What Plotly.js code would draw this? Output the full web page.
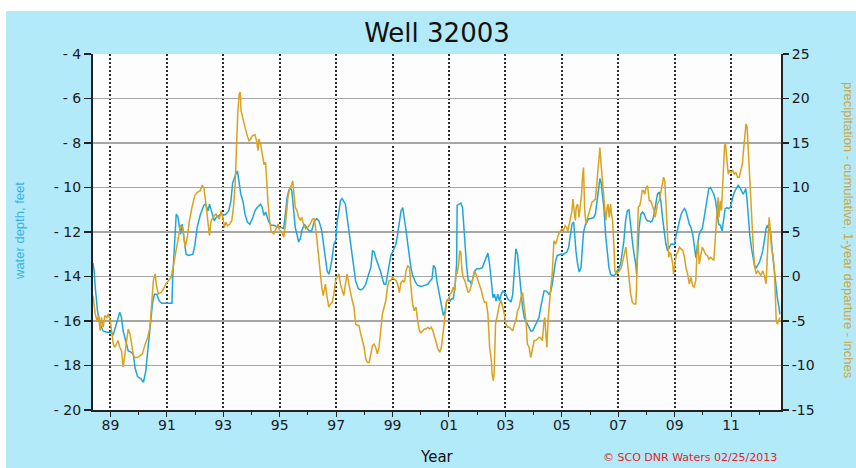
<!DOCTYPE html>
<html>
<head>
<meta charset="utf-8">
<script src="https://cdn.plot.ly/plotly-3.0.1.min.js"></script>
<style>html,body{margin:0;padding:0;background:#fff;}#chart{width:856px;height:468px;}</style>
</head>
<body>
<div id="chart"></div>
<script>
// Water depth (feet, left axis) — decimal years
const depthYears = [1988.38,1988.42,1988.46,1988.54,1988.62,1988.74,1988.86,1989.00,1989.10,1989.21,1989.33,1989.39,1989.45,1989.54,1989.63,1989.73,1989.81,1989.87,1989.96,1990.08,1990.17,1990.25,1990.32,1990.40,1990.49,1990.56,1990.64,1990.73,1990.82,1991.00,1991.18,1991.20,1991.27,1991.33,1991.39,1991.48,1991.54,1991.62,1991.68,1991.77,1991.92,1991.99,1992.07,1992.19,1992.31,1992.37,1992.46,
1992.51,1992.57,1992.63,1992.68,1992.74,1992.84,1992.92,1993.00,1993.09,1993.19,1993.27,1993.33,1993.39,1993.44,1993.50,1993.56,1993.62,1993.70,1993.77,1993.85,1993.94,1994.03,1994.12,1994.20,1994.32,1994.38,1994.44,1994.50,1994.56,1994.61,1994.70,1994.79,1994.87,1994.96,1995.06,1995.14,1995.20,1995.26,1995.32,1995.37,1995.43,1995.49,1995.55,1995.61,1995.67,1995.73,1995.78,1995.87,1995.96,1996.04,1996.13,1996.23,1996.31,1996.39,1996.49,
1996.56,1996.62,1996.68,1996.74,1996.80,1996.86,1996.92,1996.98,1997.04,1997.10,1997.15,1997.21,1997.27,1997.33,1997.39,1997.45,1997.51,1997.57,1997.63,1997.69,1997.79,1997.87,1997.95,1998.05,1998.14,1998.23,1998.29,1998.35,1998.40,1998.46,1998.52,1998.58,1998.64,1998.70,1998.76,1998.82,1998.88,1998.94,1999.00,1999.06,1999.12,1999.18,1999.24,1999.30,1999.36,1999.42,1999.48,1999.54,1999.60,1999.65,1999.71,1999.81,1999.89,2000.01,2000.13,2000.25,2000.33,2000.40,2000.45,2000.51,2000.57,2000.64,
2000.74,2000.80,2000.86,2000.92,2000.98,2001.04,2001.09,2001.15,2001.21,2001.27,2001.29,2001.35,2001.42,2001.48,2001.53,2001.57,2001.62,2001.68,2001.74,2001.80,2001.85,2001.91,2001.99,2002.09,2002.18,2002.26,2002.32,2002.38,2002.44,2002.50,2002.56,2002.61,2002.67,2002.73,2002.79,2002.85,2002.91,2002.96,2003.02,2003.08,2003.14,2003.20,2003.26,2003.32,2003.37,2003.43,2003.49,2003.55,2003.61,2003.67,2003.73,2003.78,2003.84,2003.90,2003.96,2004.02,2004.08,2004.13,2004.19,2004.25,2004.31,2004.37,2004.43,2004.49,2004.54,2004.60,2004.66,2004.72,2004.78,2004.84,
2004.88,2004.94,2005.00,2005.06,2005.12,2005.18,2005.24,2005.30,2005.36,2005.42,2005.45,2005.50,2005.56,2005.62,2005.68,2005.73,2005.77,2005.83,2005.89,2005.95,2006.01,2006.13,2006.19,2006.25,2006.31,2006.35,2006.39,2006.44,2006.49,2006.55,2006.61,2006.67,2006.73,2006.79,2006.85,2006.90,2006.96,2007.02,2007.08,2007.14,2007.20,2007.26,2007.32,2007.38,2007.44,2007.50,2007.56,2007.62,2007.65,2007.69,2007.74,2007.80,2007.86,2007.92,2007.98,2008.04,2008.10,2008.15,2008.21,2008.27,2008.33,2008.39,2008.45,2008.51,2008.57,2008.63,2008.69,2008.75,2008.81,2008.87,2008.93,2008.99,
2009.06,2009.12,2009.17,2009.23,2009.29,2009.35,2009.40,2009.46,2009.52,2009.58,2009.64,2009.69,2009.75,2009.81,2009.87,2009.92,2009.98,2010.04,2010.10,2010.16,2010.21,2010.27,2010.33,2010.39,2010.45,2010.50,2010.56,2010.62,2010.68,2010.73,2010.79,2010.85,2010.91,2010.97,2011.02,2011.08,2011.14,2011.20,2011.25,2011.31,2011.37,2011.43,2011.49,2011.52,2011.57,2011.61,2011.66,2011.72,2011.77,2011.83,2011.89,2011.95,2012.01,2012.06,2012.12,2012.18,2012.24,2012.29,2012.35,2012.41,2012.47,2012.53,2012.58,2012.64,2012.70,2012.73];
const depthFeet = [-13.4,-13.75,-14.5,-15.55,-16.1,-16.45,-16.5,-16.5,-16.6,-16.1,-15.6,-15.85,-16.45,-16.9,-17.35,-17.4,-17.5,-18.1,-18.5,-18.6,-18.75,-18.25,-17.35,-16.3,-15.2,-14.8,-14.8,-15.1,-15.2,-15.2,-15.2,-14.2,-12.85,-11.2,-11.3,-12.1,-11.65,-12.55,-13.0,-13.05,-13.0,-12.6,-11.8,-11.2,-10.8,-10.75,-11.05,
-10.75,-11.05,-11.25,-11.5,-11.35,-11.25,-11.2,-11.25,-11.2,-11.05,-10.6,-9.8,-9.55,-9.4,-9.25,-9.85,-10.3,-10.65,-11.2,-11.55,-11.65,-11.4,-11.05,-10.9,-10.75,-10.9,-11.25,-11.1,-11.35,-11.55,-11.7,-11.7,-11.75,-11.8,-11.8,-11.85,-11.2,-10.45,-10.15,-10.0,-10.15,-10.9,-11.8,-12.1,-12.45,-12.3,-11.95,-11.65,-11.8,-11.95,-11.95,-11.5,-11.4,-11.5,-11.95,
-12.7,-13.3,-13.75,-13.9,-13.6,-13.15,-12.55,-12.4,-11.5,-11.05,-10.6,-10.5,-10.6,-10.75,-11.35,-11.95,-12.55,-13.15,-13.75,-14.2,-14.55,-14.6,-14.55,-14.35,-13.95,-13.6,-12.85,-12.9,-13.15,-13.35,-13.6,-13.8,-14.1,-14.35,-14.35,-13.95,-13.45,-13.05,-12.9,-12.7,-12.55,-12.1,-11.5,-11.05,-10.9,-11.35,-11.95,-12.55,-13.15,-13.6,-13.95,-14.25,-14.4,-14.45,-14.4,-14.35,-14.2,-14.1,-13.5,-13.6,-14.2,-14.65,
-15.4,-15.75,-15.55,-15.1,-15.0,-15.1,-15.0,-15.0,-14.5,-13.45,-10.8,-10.75,-10.7,-10.9,-11.65,-12.55,-13.45,-14.2,-14.2,-14.35,-14.05,-13.75,-13.65,-13.65,-13.6,-13.35,-13.15,-12.95,-13.45,-14.2,-14.95,-14.8,-15.1,-14.8,-15.1,-14.8,-14.65,-14.7,-14.8,-15.0,-15.1,-15.15,-14.8,-13.6,-12.75,-13.0,-13.9,-14.8,-15.4,-15.85,-16.0,-16.15,-16.3,-16.45,-16.45,-16.3,-16.15,-16.0,-15.85,-15.4,-14.95,-14.65,-14.65,-14.7,-14.8,-14.7,-14.35,-13.75,-13.3,-13.05,
-13.05,-13.0,-13.0,-13.0,-12.95,-12.9,-12.7,-12.1,-11.65,-11.55,-12.1,-12.85,-13.45,-13.8,-13.6,-12.85,-12.0,-11.7,-11.55,-11.4,-11.4,-11.35,-11.2,-10.6,-10.0,-9.6,-9.75,-10.3,-10.9,-12.1,-13.0,-13.6,-13.9,-13.95,-13.95,-13.9,-13.75,-13.65,-13.45,-13.0,-12.4,-11.5,-11.05,-11.0,-11.8,-12.4,-13.0,-13.45,-13.9,-12.7,-11.8,-11.2,-11.1,-11.2,-11.4,-11.5,-11.5,-11.55,-11.5,-11.2,-10.75,-10.3,-10.2,-10.6,-11.35,-11.95,-12.55,-12.85,-12.7,-12.55,-12.55,-12.55,
-12.1,-11.8,-11.5,-11.2,-11.05,-10.95,-11.05,-11.35,-11.65,-11.8,-12.1,-12.55,-13.15,-12.55,-12.1,-11.95,-11.85,-11.4,-10.9,-10.45,-10.05,-10.0,-10.15,-10.3,-10.6,-11.05,-11.65,-11.7,-11.95,-11.5,-10.95,-10.9,-10.95,-10.9,-10.6,-10.35,-10.15,-10.0,-9.9,-10.0,-10.15,-10.3,-10.15,-10.05,-10.6,-11.5,-12.1,-12.7,-13.15,-13.5,-13.6,-13.5,-13.35,-13.15,-12.85,-12.4,-11.85,-11.7,-11.95,-12.1,-13.0,-13.75,-14.5,-14.95,-15.4,-15.7];

// Precipitation, cumulative 1-year departure (inches, right axis)
const precipYears = [1988.38,1988.42,1988.46,1988.52,1988.58,1988.63,1988.68,1988.74,1988.80,1988.87,1988.92,1988.99,1989.04,1989.10,1989.15,1989.21,1989.27,1989.33,1989.39,1989.45,1989.51,1989.57,1989.63,1989.69,1989.75,1989.81,1989.87,1989.96,1990.05,1990.13,1990.23,1990.32,1990.40,1990.46,1990.52,1990.58,1990.64,1990.70,1990.80,1990.88,1990.96,1991.06,1991.15,1991.24,1991.32,1991.39,1991.48,1991.56,1991.65,1991.73,1991.80,1991.89,1991.99,1992.08,1992.18,1992.25,1992.31,1992.37,1992.43,
1992.51,1992.57,1992.63,1992.68,1992.74,1992.80,1992.86,1992.92,1992.98,1993.04,1993.09,1993.15,1993.23,1993.30,1993.36,1993.42,1993.47,1993.51,1993.56,1993.60,1993.63,1993.70,1993.77,1993.85,1993.91,1993.97,1994.03,1994.12,1994.18,1994.23,1994.26,1994.32,1994.38,1994.44,1994.50,1994.53,1994.58,1994.64,1994.70,1994.79,1994.87,1994.94,1995.00,1995.08,1995.14,1995.20,1995.25,1995.29,1995.35,1995.41,1995.46,1995.50,1995.55,1995.61,1995.67,1995.73,1995.78,1995.84,1995.92,1995.99,1996.08,1996.16,1996.23,1996.31,1996.37,1996.43,1996.49,1996.54,
1996.62,1996.68,1996.74,1996.80,1996.86,1996.92,1996.98,1997.04,1997.10,1997.15,1997.21,1997.27,1997.33,1997.39,1997.45,1997.51,1997.57,1997.63,1997.69,1997.75,1997.81,1997.87,1997.93,1997.99,1998.05,1998.11,1998.17,1998.23,1998.29,1998.35,1998.40,1998.46,1998.52,1998.58,1998.64,1998.70,1998.76,1998.82,1998.88,1998.94,1999.00,1999.06,1999.12,1999.18,1999.24,1999.30,1999.36,1999.42,1999.48,1999.54,1999.60,1999.65,1999.71,1999.77,1999.83,1999.89,1999.95,2000.01,2000.07,2000.13,2000.19,2000.25,2000.31,2000.37,2000.43,2000.49,2000.55,2000.61,2000.67,2000.73,
2000.80,2000.86,2000.92,2000.98,2001.04,2001.09,2001.15,2001.21,2001.25,2001.29,2001.34,2001.38,2001.42,2001.46,2001.50,2001.56,2001.62,2001.68,2001.74,2001.80,2001.85,2001.91,2001.97,2002.03,2002.09,2002.15,2002.20,2002.26,2002.32,2002.38,2002.44,2002.50,2002.53,2002.57,2002.60,2002.65,2002.70,2002.74,2002.79,2002.85,2002.91,2002.96,2003.02,2003.08,2003.14,2003.20,2003.26,2003.32,2003.37,2003.43,2003.49,2003.55,2003.61,2003.67,2003.73,2003.78,2003.84,2003.90,2003.96,2004.02,2004.08,2004.13,2004.19,2004.25,2004.31,2004.37,2004.40,2004.44,2004.47,2004.52,2004.57,2004.61,2004.66,2004.72,2004.78,2004.84,2004.89,
2005.00,2005.06,2005.12,2005.18,2005.21,2005.26,2005.30,2005.36,2005.39,2005.44,2005.48,2005.51,2005.56,2005.61,2005.65,2005.70,2005.74,2005.77,2005.81,2005.86,2005.89,2005.95,2006.01,2006.07,2006.13,2006.19,2006.25,2006.31,2006.35,2006.39,2006.44,2006.49,2006.52,2006.56,2006.61,2006.64,2006.68,2006.73,2006.76,2006.80,2006.85,2006.88,2006.93,2006.99,2007.05,2007.11,2007.17,2007.23,2007.27,2007.32,2007.38,2007.44,2007.50,2007.56,2007.62,2007.65,2007.68,2007.71,2007.76,2007.80,2007.85,2007.89,2007.94,2007.99,2008.04,2008.10,2008.15,2008.21,2008.27,2008.31,2008.36,2008.39,2008.45,2008.51,2008.57,2008.61,2008.65,2008.70,2008.75,2008.79,2008.83,2008.87,2008.93,2008.96,2009.01,2009.06,2009.11,
2009.17,2009.23,2009.29,2009.35,2009.40,2009.46,2009.52,2009.58,2009.64,2009.69,2009.75,2009.79,2009.83,2009.87,2009.92,2009.98,2010.04,2010.10,2010.16,2010.21,2010.27,2010.33,2010.39,2010.45,2010.50,2010.54,2010.57,2010.62,2010.66,2010.70,2010.73,2010.77,2010.80,2010.85,2010.90,2010.94,2011.00,2011.06,2011.12,2011.17,2011.23,2011.29,2011.35,2011.40,2011.45,2011.50,2011.53,2011.57,2011.61,2011.66,2011.71,2011.75,2011.80,2011.84,2011.89,2011.95,2012.01,2012.06,2012.12,2012.18,2012.24,2012.27,2012.32,2012.35,2012.39,2012.43,2012.48,2012.53,2012.56,2012.60,2012.64,2012.68,2012.73];
const precipInches = [-2.15,-3.45,-4.2,-4.95,-4.4,-6.1,-4.6,-5.7,-4.4,-4.6,-4.2,-4.95,-6.45,-7.6,-7.95,-7.6,-7.2,-7.95,-8.3,-10.2,-8.3,-7.2,-5.9,-6.45,-7.6,-8.9,-9.1,-9.1,-8.9,-8.7,-7.6,-6.85,-5.7,-2.7,-0.45,0.3,-1.2,-1.95,-1.8,-1.4,-0.85,-0.45,-0.1,1.4,2.9,4.4,5.7,5.5,3.3,4.6,6.3,7.8,9.1,9.45,9.65,10.2,10.0,8.5,7.0,
4.6,6.3,6.65,6.85,7.0,6.65,6.45,7.4,6.65,5.5,6.1,5.7,5.9,6.3,7.8,10.4,14.9,18.25,20.5,20.7,18.6,17.5,16.75,15.8,15.25,15.45,15.8,15.95,15.25,14.15,15.45,14.9,13.75,12.65,12.8,10.75,8.5,6.3,5.0,4.8,5.5,5.9,5.15,5.0,4.4,5.7,7.4,8.9,9.85,10.2,10.75,8.9,7.8,7.4,6.65,6.3,6.65,5.9,5.35,5.5,5.9,6.45,6.45,4.4,2.5,0.3,-1.2,-2.15,
-0.85,-2.35,-3.45,-3.1,-2.9,-1.95,-0.45,-0.1,0.3,-0.85,-1.6,-2.15,-0.85,0.3,-0.85,-1.95,-2.7,-3.45,-5.35,-5.5,-5.5,-6.45,-7.2,-7.95,-9.25,-9.65,-9.65,-8.7,-7.75,-7.6,-7.95,-8.7,-7.95,-6.1,-4.2,-3.45,-2.7,-1.2,-0.45,-0.45,-0.1,-0.3,-0.45,-0.85,-1.8,-0.65,-0.45,-0.65,0.65,1.2,1.0,-1.2,-3.1,-3.85,-3.45,-4.95,-6.1,-6.3,-6.1,-5.9,-5.9,-5.7,-5.9,-5.7,-6.1,-6.85,-7.6,-8.15,-8.5,-7.95,
-6.1,-4.2,-2.7,-2.7,-1.95,-1.8,-1.2,-1.6,0.65,0.3,1.4,2.9,2.7,0.65,-0.1,-0.45,-1.2,-1.8,-1.6,-0.85,-0.3,0.65,0.1,-0.45,-1.2,-1.6,-2.35,-2.9,-2.9,-4.2,-7.95,-9.45,-10.95,-11.7,-10.95,-5.35,-4.6,-3.85,-3.1,-2.7,-3.45,-4.2,-5.35,-5.7,-5.7,-5.9,-6.1,-5.35,-4.95,-3.85,-3.45,-2.35,-1.8,-3.45,-4.95,-7.6,-7.95,-9.1,-7.95,-7.2,-7.2,-7.0,-6.85,-6.85,-7.2,-4.95,-4.6,-6.85,-7.95,-4.6,-2.35,-1.2,0.3,4.0,3.65,4.2,4.8,
5.35,5.15,5.7,5.5,5.0,5.9,6.65,7.4,8.7,7.0,6.3,7.8,8.15,6.65,7.8,9.25,11.5,12.25,7.4,5.9,6.3,7.0,7.8,8.35,8.5,8.7,10.75,13.0,14.5,12.65,10.75,9.65,7.8,6.3,7.8,8.15,6.65,8.15,7.0,6.3,3.3,0.65,0.3,0.45,0.65,1.0,1.8,2.5,3.3,1.8,-0.45,-1.95,-2.9,-3.1,-3.1,-1.2,4.0,7.8,7.95,8.5,9.65,9.65,9.25,10.0,10.2,8.5,8.5,7.95,7.4,6.65,7.8,8.15,8.5,9.65,10.6,11.15,10.75,7.0,3.3,2.15,2.7,2.5,1.4,0.3,1.4,2.5,2.7,
3.3,3.1,2.9,2.15,1.0,0.3,-0.85,-0.1,-1.05,-1.2,-0.45,2.5,4.0,1.4,2.5,3.3,2.9,2.5,2.35,1.95,2.15,1.95,1.8,4.8,7.8,8.9,6.65,8.5,7.4,10.75,13.0,14.7,14.9,13.0,11.5,11.9,11.7,11.9,11.5,11.7,11.15,11.15,12.1,12.65,14.5,16.0,17.15,16.75,14.15,11.15,7.8,4.8,2.5,1.0,0.3,0.65,0.3,0.1,0.65,0.1,-0.85,1.8,4.0,6.65,5.15,3.3,2.5,1.0,-1.2,-4.95,-5.35,-4.95,-4.6];

// Axis ticks and labels
const xTickVals = [1989,1991,1993,1995,1997,1999,2001,2003,2005,2007,2009,2011];
const xTickText = ['89','91','93','95','97','99','01','03','05','07','09','11'];
const xMinorVals = [1990,1992,1994,1996,1998,2000,2002,2004,2006,2008,2010,2012];
const yLeftVals = [-20,-18,-16,-14,-12,-10,-8,-6,-4];
const yLeftText = ['- 20','- 18','- 16','- 14','- 12','- 10','- 8','- 6','- 4'];
const yRightVals = [-15,-10,-5,0,5,10,15,20,25];
const yRightText = ['-15','-10','-5','0','5','10','15','20','25'];

const chartTitle = 'Well 32003';
const leftTitle = 'water depth, feet';
const rightTitle = 'precipitation - cumulative, 1-year departure - inches';
const xTitle = 'Year';
const footer = '\u00A9 SCO DNR Waters 02/25/2013';

// plot area in pixels: x 93..781, y 54..410
const L = 93, R = 781, T = 54, B = 410;
const px = v => (v - L) / (R - L);
const py = v => (B - v) / (B - T);

const traces = [
  {x: precipYears, y: precipInches, yaxis: 'y2', type: 'scatter', mode: 'lines',
   line: {color: '#d9a21f', width: 1.5}, hoverinfo: 'skip'},
  {x: depthYears, y: depthFeet, yaxis: 'y', type: 'scatter', mode: 'lines',
   line: {color: '#1fa6d9', width: 1.5}, hoverinfo: 'skip'}
];

const tickFont = {family: 'DejaVu Sans', size: 14, color: '#1a1a1a'};

const layout = {
  width: 856, height: 468,
  margin: {l: L, r: 856 - R, t: T, b: 468 - B, pad: 0},
  paper_bgcolor: '#b3eafa',
  plot_bgcolor: '#fdfdfd',
  showlegend: false,
  title: {text: chartTitle, font: {family: 'DejaVu Sans', size: 26, color: '#111'},
          xref: 'paper', x: 0.5, xanchor: 'center', yref: 'container', y: 1 - 33/468, yanchor: 'middle'},
  xaxis: {
    range: [1988.38, 2012.77], tickmode: 'array', tickvals: xTickVals, ticktext: xTickText,
    ticks: 'outside', ticklen: 5, tickwidth: 1, tickcolor: '#222', ticklabelstandoff: -4,
    showgrid: true, gridcolor: '#2a2a2a', gridwidth: 2, griddash: '2px,2px',
    showline: true, linecolor: '#222', linewidth: 2, zeroline: false,
    tickfont: tickFont,
    minor: {tickmode: 'array', tickvals: xMinorVals, ticks: 'outside', ticklen: 3, tickwidth: 1, tickcolor: '#222', showgrid: false}
  },
  yaxis: {
    range: [-20, -4], tickmode: 'array', tickvals: yLeftVals, ticktext: yLeftText,
    ticks: 'outside', ticklen: 7, tickwidth: 1.5, tickcolor: '#222',
    showgrid: true, gridcolor: '#a6a6a6', gridwidth: 1.5,
    showline: true, linecolor: '#222', linewidth: 2, zeroline: false,
    tickfont: tickFont
  },
  yaxis2: {
    range: [-15, 25], overlaying: 'y', side: 'right', tickmode: 'array', tickvals: yRightVals, ticktext: yRightText,
    ticks: 'outside', ticklen: 6, tickwidth: 1.5, tickcolor: '#222',
    showgrid: false, showline: true, linecolor: '#222', linewidth: 2, zeroline: false,
    tickfont: tickFont
  },
  shapes: [
    {type: 'rect', xref: 'paper', yref: 'paper', x0: px(-10), x1: px(900), y0: py(11), y1: py(-20),
     fillcolor: '#ffffff', line: {width: 0}, layer: 'below'},
    {type: 'rect', xref: 'paper', yref: 'paper', x0: px(-10), x1: px(6), y0: py(480), y1: py(-20),
     fillcolor: '#ffffff', line: {width: 0}, layer: 'below'}
  ],
  annotations: [
    {text: leftTitle, xref: 'paper', yref: 'paper', x: px(19), y: py(231), textangle: -90,
     showarrow: false, xanchor: 'center', yanchor: 'middle',
     font: {family: 'Liberation Sans', size: 13, color: '#36b3e0'}},
    {text: rightTitle, xref: 'paper', yref: 'paper', x: px(849), y: py(230), textangle: 90,
     showarrow: false, xanchor: 'center', yanchor: 'middle',
     font: {family: 'Liberation Sans', size: 13, color: '#cfa640'}},
    {text: xTitle, xref: 'paper', yref: 'paper', x: px(437), y: py(457),
     showarrow: false, xanchor: 'center', yanchor: 'middle',
     font: {family: 'DejaVu Sans', size: 15, color: '#111'}},
    {text: footer, xref: 'paper', yref: 'paper', x: px(779), y: py(458),
     showarrow: false, xanchor: 'right', yanchor: 'middle',
     font: {family: 'DejaVu Sans', size: 11, color: '#e0241f'}}
  ]
};

Plotly.newPlot('chart', traces, layout, {staticPlot: true, displayModeBar: false});
</script>
</body>
</html>
